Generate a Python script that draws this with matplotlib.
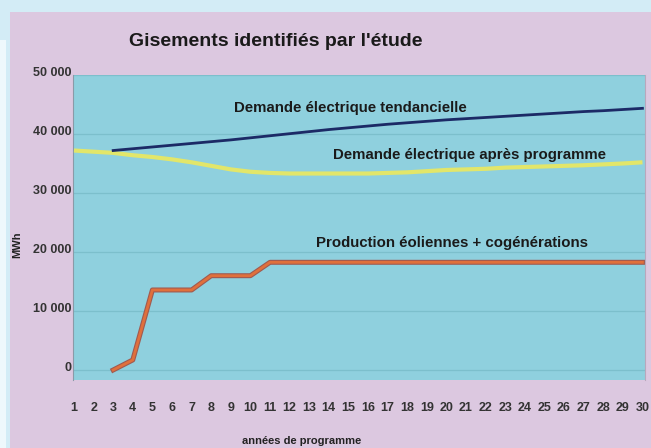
import matplotlib
matplotlib.use("Agg")
import matplotlib.pyplot as plt
import matplotlib.patheffects as pe
from matplotlib.patches import Rectangle
from matplotlib.transforms import ScaledTranslation

# ---- data ----
years = list(range(1, 31))
years_trend = list(range(3, 31))
demande_tendancielle = [37200, 37500, 37800, 38100, 38400, 38700, 39000, 39350, 39700,
                        40050, 40400, 40750, 41050, 41350, 41650, 41900, 42150, 42400,
                        42600, 42800, 43000, 43200, 43400, 43600, 43800, 43950, 44150, 44350]
demande_apres = [37200, 37000, 36800, 36400, 36100, 35700, 35200, 34600, 34000, 33600,
                 33400, 33300, 33300, 33300, 33300, 33300, 33400, 33500, 33700, 33900,
                 34000, 34100, 34300, 34400, 34500, 34600, 34700, 34850, 35000, 35200]
years_prod = list(range(3, 31))
production = [0, 1700, 13560, 13560, 13560, 15980, 15980, 15980] + [18250] * 20
yticks = [0, 10000, 20000, 30000, 40000, 50000]
ytick_labels = ["0", "10 000", "20 000", "30 000", "40 000", "50 000"]
title = "Gisements identifiés par l'étude"
xlabel = "années de programme"
ylabel = "MWh"
lbl_trend = "Demande électrique tendancielle"
lbl_apres = "Demande électrique après programme"
lbl_prod = "Production éoliennes + cogénérations"

plt.rcParams['font.family'] = ['Liberation Sans', 'DejaVu Sans']

W, H = 651, 448
fig = plt.figure(figsize=(W / 100, H / 100), dpi=100)
fig.patch.set_facecolor('#d3ecf6')
# pink card
fig.add_artist(Rectangle((10 / W, 0), 1 - 10 / W, 1 - 12 / H, transform=fig.transFigure,
                         facecolor='#dcc8e0', edgecolor='none', zorder=-5))
fig.add_artist(Rectangle((0, 0), 6 / W, 1 - 40 / H, transform=fig.transFigure,
                         facecolor='#eef8fc', edgecolor='none', zorder=-5))

ax = fig.add_axes([73 / W, 1 - 380 / H, (645 - 73) / W, (380 - 75) / H])
ax.set_zorder(1)
ax.set_facecolor('#8fd0de')
ax.set_xlim(0.95, 30.13)
ax.set_ylim(-1700, 50000)

ax.set_yticks(yticks)
ax.set_yticklabels(ytick_labels)
ax.set_xticks(years)
ax.set_xticklabels([str(y) for y in years])
ax.grid(axis='y', color='#7cbfcc', linewidth=0.9)
ax.set_axisbelow(True)
ax.tick_params(axis='both', length=0, labelsize=9, labelcolor='#333333')
ax.tick_params(axis='x', pad=16)
ax.tick_params(axis='y', pad=1)
for lab in ax.get_xticklabels() + ax.get_yticklabels():
    lab.set_fontweight('bold')
for lab in ax.get_yticklabels():
    lab.set_transform(lab.get_transform() + ScaledTranslation(0, 3 / 100, fig.dpi_scale_trans))
ax.spines['top'].set_visible(False)
ax.spines['bottom'].set_visible(False)
ax.spines['left'].set_color('#8a9aa8')
ax.spines['right'].set_color('#b8a8bc')

ax.plot(years, demande_apres, color='#e2e66a', linewidth=3, solid_capstyle='butt', zorder=3)
ax.plot(years_trend, demande_tendancielle, color='#1c2a66', linewidth=2.0, zorder=4)
ax.plot(years_prod, production, color='#e0703c', linewidth=2,
        path_effects=[pe.Stroke(linewidth=3.6, foreground='#a05a50'), pe.Normal()], zorder=4)

ax.text(15.1, 44400, lbl_trend, ha='center', va='center', fontsize=10.8, fontweight='bold', color='#1a1a1a')
ax.text(21.2, 36440, lbl_apres, ha='center', va='center', fontsize=10.8, fontweight='bold', color='#1a1a1a')
ax.text(20.3, 21500, lbl_prod, ha='center', va='center', fontsize=10.8, fontweight='bold', color='#1a1a1a')

fig.text(276 / W, 1 - 42 / H, title, ha='center', va='center', fontsize=14, fontweight='bold', color='#1a1a1a')
fig.text(302 / W, 1 - 441 / H, xlabel, ha='center', va='center', fontsize=8, fontweight='bold', color='#222222')
fig.text(17 / W, 1 - 245 / H, ylabel, ha='center', va='center', fontsize=8, fontweight='bold',
         color='#222222', rotation=90)

fig.savefig('out.png', dpi=100, facecolor=fig.get_facecolor())
